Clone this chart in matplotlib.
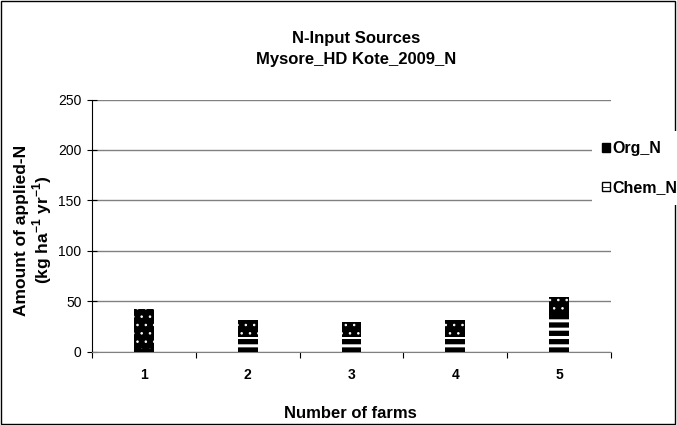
import matplotlib
matplotlib.use('Agg')
import matplotlib.pyplot as plt
from matplotlib.patches import Rectangle, Patch

plt.rcParams['font.family'] = ['Liberation Sans', 'DejaVu Sans']
plt.rcParams['mathtext.fontset'] = 'custom'
plt.rcParams['mathtext.rm'] = 'Liberation Sans'
plt.rcParams['mathtext.bf'] = 'Liberation Sans:bold'
plt.rcParams['hatch.linewidth'] = 0.6

# data
farms = ['1', '2', '3', '4', '5']
chem_n = [3, 15, 15, 15, 36]
org_n = [39, 16, 14, 16, 18]

fig = plt.figure(figsize=(6.77, 4.25), dpi=100)
ax = fig.add_axes([92 / 677, 1 - 351.7 / 425, (611 - 92) / 677, (351.7 - 99.5) / 425])

x = list(range(1, len(farms) + 1))
w = 0.19
chem_bars = ax.bar(x, chem_n, width=w, color='black', edgecolor='white', linewidth=0,
                   hatch='--', zorder=3)
ax.bar(x, org_n, width=w, bottom=chem_n, color='black', edgecolor='white',
       linewidth=0, hatch='..', zorder=3)
# thicker white stripes for the chemical N part
for b in chem_bars:
    if hasattr(b, 'set_hatch_linewidth'):
        b.set_hatch_linewidth(2.2)

ax.set_xlim(0.5, 5.5)
ax.set_ylim(0, 250)
ax.set_yticks(range(0, 251, 50))
ax.grid(axis='y', color='#808080', linewidth=1, zorder=0)
ax.set_axisbelow(True)

# category ticks between bars, labels under bars
ax.set_xticks([i + 0.5 for i in range(0, 6)])
ax.set_xticklabels([])
ax.set_xticks(x, minor=True)
ax.set_xticklabels(farms, minor=True, fontweight='bold', fontsize=10)
ax.tick_params(axis='x', which='major', direction='out', length=4, color='black')
ax.tick_params(axis='x', which='minor', length=0, pad=12)
ax.tick_params(axis='y', direction='inout', length=7, labelsize=10, color='black', pad=4)

for s in ['top', 'right']:
    ax.spines[s].set_visible(False)
ax.spines['bottom'].set_color('#808080')
ax.spines['left'].set_color('black')

# axis titles and chart title
fig.text(350 / 677, 1 - 418 / 425, 'Number of farms', ha='center', va='baseline',
         fontweight='bold', fontsize=12)
fig.text(22 / 677, 1 - 230 / 425, 'Amount of applied-N', rotation=90, ha='center',
         va='center', fontweight='bold', fontsize=12.5)
fig.text(42 / 677, 1 - 230 / 425, '(kg ha$^{\\mathbf{-1}}$ yr$^{\\mathbf{-1}}$)', rotation=90,
         ha='center', va='center', fontweight='bold', fontsize=12.5)
fig.text(356 / 677, 1 - 43 / 425, 'N-Input Sources', ha='center', va='baseline',
         fontweight='bold', fontsize=12)
fig.text(356 / 677, 1 - 64 / 425, 'Mysore_HD Kote_2009_N', ha='center', va='baseline',
         fontweight='bold', fontsize=12)

handles = [Patch(facecolor='black', edgecolor='black'),
           Patch(facecolor='white', edgecolor='black', hatch='--')]
leg = fig.legend(handles, ['Org_N', 'Chem_N'], loc='center left',
                 bbox_to_anchor=(592 / 677, 1 - 168 / 425), borderaxespad=0,
                 frameon=True, facecolor='white', edgecolor='none',
                 fancybox=False, prop={'weight': 'bold', 'size': 11.5},
                 handlelength=0.55, handleheight=0.55, handletextpad=0.15,
                 labelspacing=1.5, borderpad=0.6)
leg.get_frame().set_alpha(1)

fig.patches.append(Rectangle((0.002, 0.003), 0.995, 0.994, transform=fig.transFigure,
                             fill=False, edgecolor='black', linewidth=1))

fig.savefig('out.png', dpi=100)
